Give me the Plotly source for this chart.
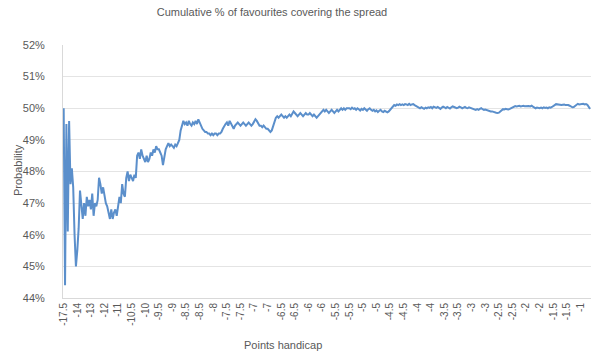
import plotly.graph_objects as go

# Cumulative % of favourites covering the spread (one value per game, sorted by handicap)
probability_pct = [
    50.0, 44.4, 49.5, 46.1, 49.6, 47.6, 48.1, 47.5, 46.0, 45.0,
    45.5, 46.2, 47.4, 46.8, 46.5, 47.0, 46.6, 47.2, 46.9, 47.1,
    46.8, 47.3, 46.6, 47.0, 46.9, 47.1, 47.8, 47.6, 47.3, 47.5,
    47.2, 47.0, 46.9, 46.7, 46.5, 46.8, 46.5, 46.7, 46.8, 46.6,
    46.9, 47.2, 47.0, 47.6, 47.3, 47.2, 47.8, 48.0, 47.7, 47.9,
    47.8, 47.7, 47.9, 47.8, 48.5, 48.6, 48.4, 48.7, 48.5, 48.4,
    48.3, 48.5, 48.3, 48.4, 48.6, 48.5, 48.7, 48.6, 48.8, 48.7,
    48.7, 48.6, 48.5, 48.2, 48.5, 48.7, 48.8, 48.9, 48.8, 48.85,
    48.8, 48.75, 48.85, 48.8, 48.9, 49.0, 49.3, 49.5, 49.6, 49.5,
    49.55, 49.45, 49.6, 49.5, 49.45, 49.55, 49.5, 49.6, 49.5, 49.65,
    49.55, 49.4, 49.35, 49.3, 49.25, 49.25, 49.2, 49.2, 49.15, 49.2,
    49.15, 49.2, 49.2, 49.15, 49.2, 49.2, 49.25, 49.35, 49.45, 49.5,
    49.55, 49.45, 49.6, 49.5, 49.4, 49.35, 49.45, 49.5, 49.55, 49.5,
    49.45, 49.5, 49.55, 49.5, 49.45, 49.5, 49.55, 49.5, 49.45, 49.5,
    49.6, 49.65, 49.6, 49.5, 49.45, 49.45, 49.4, 49.45, 49.4, 49.35,
    49.35, 49.3, 49.25, 49.3, 49.45, 49.55, 49.7, 49.75, 49.7, 49.75,
    49.8, 49.75, 49.7, 49.75, 49.7, 49.75, 49.8, 49.75, 49.85, 49.9,
    49.85, 49.8, 49.75, 49.8, 49.85, 49.8, 49.75, 49.8, 49.85, 49.8,
    49.8, 49.85, 49.8, 49.75, 49.8, 49.75, 49.7, 49.75, 49.8, 49.85,
    49.9, 49.95, 49.9, 49.95, 49.9, 49.85, 49.9, 49.95, 49.9, 49.85,
    49.9, 49.95, 49.9, 49.95, 50.0, 49.95, 50.0, 49.95, 50.0, 50.0,
    50.0, 49.97, 50.02, 49.98, 50.0, 49.95, 50.0, 49.97, 49.93, 49.98,
    49.95, 50.0, 49.95, 49.92, 49.97, 50.0, 49.95, 49.92, 49.95, 49.9,
    49.93, 49.88, 49.92, 49.95, 49.9, 49.88, 49.92, 49.9, 49.87, 49.9,
    49.95, 50.0, 50.05, 50.1, 50.08, 50.12, 50.1, 50.13, 50.1, 50.12,
    50.1, 50.13, 50.12, 50.1, 50.14, 50.1, 50.12, 50.13, 50.1, 50.08,
    50.05, 50.02, 50.0, 50.03, 50.0, 49.98, 50.02, 50.0, 50.03, 50.01,
    50.04, 50.0, 50.05, 50.03, 50.01, 50.04, 50.0, 49.98, 50.02, 50.05,
    50.03, 50.0, 50.04, 50.02, 49.99, 50.03, 50.06, 50.04, 50.02, 50.0,
    50.02, 50.05, 50.03, 50.0, 50.02, 50.04, 50.01, 50.0, 50.03, 50.01,
    50.0, 49.98, 49.96, 49.95, 49.97, 49.95, 49.98, 50.0, 49.97, 49.95,
    49.96, 49.94, 49.93, 49.92, 49.9, 49.9, 49.88, 49.87, 49.86, 49.85,
    49.86, 49.9, 49.95, 49.97, 49.96, 49.98, 49.97, 49.96, 49.98, 50.0,
    50.04, 50.06, 50.07, 50.06, 50.07, 50.08, 50.06, 50.07, 50.08, 50.06,
    50.07, 50.08, 50.07, 50.06, 50.08, 50.05, 50.02, 50.0, 50.02, 50.01,
    50.0, 50.02, 50.0, 50.03, 50.01, 50.02, 50.0, 50.03, 50.02, 50.04,
    50.06, 50.1, 50.13, 50.12, 50.11, 50.12, 50.1, 50.11, 50.12, 50.1,
    50.11, 50.1, 50.08, 50.05, 50.03, 50.04, 50.08, 50.12, 50.14, 50.12,
    50.13, 50.12, 50.14, 50.12, 50.13, 50.11, 50.05, 49.98,
]

# Handicap labels shown every 10th game
handicap_labels = [
    "-17.5", "-14", "-13", "-12", "-11", "-10.5", "-10", "-9.5", "-9",
    "-8.5", "-8.5", "-8", "-7.5", "-7.5", "-7", "-7", "-6.5", "-6.5",
    "-6", "-6", "-5.5", "-5.5", "-5", "-5", "-4.5", "-4.5", "-4", "-4",
    "-3.5", "-3.5", "-3", "-3", "-2.5", "-2.5", "-2", "-2", "-1.5", "-1.5", "-1",
]
label_every = 10

y_ticks = [44, 45, 46, 47, 48, 49, 50, 51, 52]
y_tick_labels = [f"{v}%" for v in y_ticks]

game_index = list(range(len(probability_pct)))
tick_positions = [i * label_every for i in range(len(handicap_labels))]

FONT = "Liberation Sans, Arial, sans-serif"
GREY = "#595959"

fig = go.Figure()
fig.add_trace(go.Scatter(
    x=game_index, y=probability_pct, mode="lines",
    line=dict(color="#5b8fcb", width=2),
    hoverinfo="skip", showlegend=False,
))

fig.update_layout(
    width=600, height=364,
    margin=dict(l=63, r=9, t=45, b=66),
    paper_bgcolor="white", plot_bgcolor="white",
    font=dict(family=FONT, color=GREY, size=11),
    title=dict(text="Cumulative % of favourites covering the spread",
               x=272 / 600, xanchor="center", y=1 - 12 / 364, yanchor="middle",
               font=dict(size=11, color=GREY, family=FONT)),
    xaxis=dict(
        range=[-0.5, 387.7], automargin=False,
        tickmode="array", tickvals=tick_positions, ticktext=handicap_labels,
        tickangle=-90, tickfont=dict(size=10, color=GREY),
        showgrid=False, zeroline=False,
        showline=True, linecolor="#d9d9d9", linewidth=1,
        ticks="", ticklen=0,
    ),
    yaxis=dict(
        range=[44, 52], automargin=False,
        tickmode="array", tickvals=y_ticks, ticktext=y_tick_labels,
        tickfont=dict(size=11, color=GREY),
        showgrid=True, gridcolor="#e4e4e4", gridwidth=1,
        zeroline=False, showline=True, linecolor="#d9d9d9", linewidth=1,
        ticks="", ticklabelstandoff=15,
    ),
)

fig.add_annotation(
    text="Points handicap", xref="paper", yref="paper",
    x=(283 - 63) / 528, y=-(345 - 298) / 253, xanchor="center", yanchor="middle",
    showarrow=False, font=dict(size=11, color=GREY, family=FONT),
)
fig.add_annotation(
    text="Probability", xref="paper", yref="paper",
    x=-(63 - 18) / 528, y=(298 - 170) / 253, xanchor="center", yanchor="middle",
    textangle=-90, showarrow=False, font=dict(size=11, color=GREY, family=FONT),
)

fig.write_html("out.html", config={"displayModeBar": False},
               post_script="document.body.style.margin='0';")
